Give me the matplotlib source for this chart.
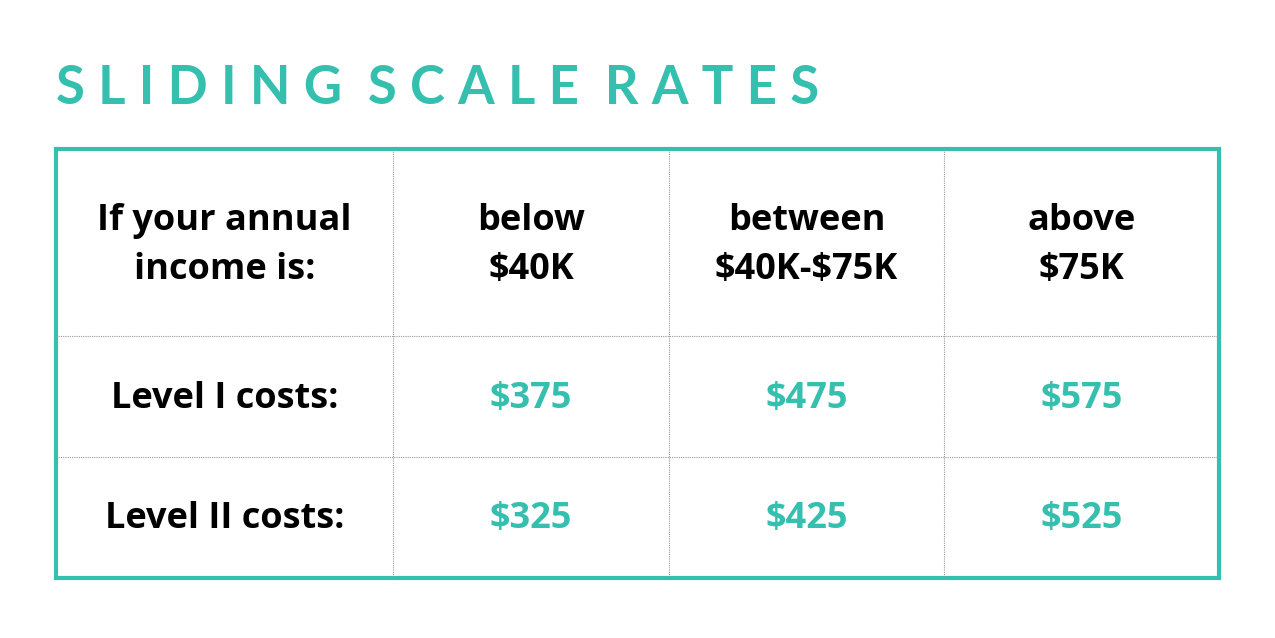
import matplotlib.pyplot as plt

plt.rcParams['text.parse_math'] = False

teal = '#35BFAF'
title = 'SLIDING SCALE RATES'
header = ['If your annual\nincome is:', 'below\n$40K', 'between\n$40K-$75K', 'above\n$75K']
row_labels = ['Level I costs:', 'Level II costs:']
level1 = ['$375', '$475', '$575']
level2 = ['$325', '$425', '$525']

col_edges = [56, 393, 669, 944, 1219]
row_edges = [149, 336, 457, 578]

fig = plt.figure(figsize=(12.75, 6.38), dpi=100)
ax = fig.add_axes([0, 0, 1, 1])
ax.set_xlim(0, 1275)
ax.set_ylim(638, 0)
ax.axis('off')

# title with letter spacing
spaced = '\u2005'.join(title).replace('\u2005 \u2005', '  ')
ax.text(56, 88, spaced, fontsize=38, fontweight='bold', color=teal, va='center', ha='left',
        family=['Lato', 'DejaVu Sans'])

# inner grid lines (dotted grey)
for x in col_edges[1:-1]:
    ax.plot([x, x], [row_edges[0], row_edges[-1]], color='#999999', lw=0.8, ls=(0, (1, 1)))
for y in row_edges[1:-1]:
    ax.plot([col_edges[0], col_edges[-1]], [y, y], color='#999999', lw=0.8, ls=(0, (1, 1)))

# outer border
ax.add_patch(plt.Rectangle((col_edges[0], row_edges[0]), col_edges[-1] - col_edges[0],
                           row_edges[-1] - row_edges[0], fill=False, ec=teal, lw=3))

centers_x = [(a + b) / 2 for a, b in zip(col_edges[:-1], col_edges[1:])]
centers_y = [(a + b) / 2 for a, b in zip(row_edges[:-1], row_edges[1:])]

font = dict(fontsize=26, fontweight='bold', ha='center', va='center', family='Open Sans')

for cx, txt in zip(centers_x, header):
    ax.text(cx, centers_y[0] + 3, txt, linespacing=1.45, color='black', **font)

for r, (lab, vals) in enumerate(zip(row_labels, [level1, level2])):
    cy = centers_y[r + 1] + 2
    ax.text(centers_x[0], cy, lab, color='black', **font)
    for cx, v in zip(centers_x[1:], vals):
        ax.text(cx, cy, v, color=teal, **font)

fig.savefig('out.png', dpi=100)
